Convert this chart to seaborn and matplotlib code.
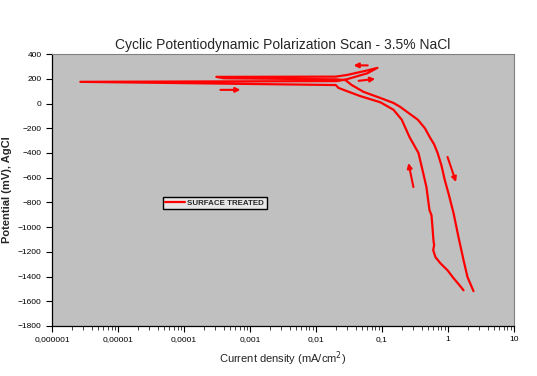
import numpy as np
import pandas as pd
import matplotlib
matplotlib.use("Agg")
import matplotlib.pyplot as plt
import seaborn as sns
from matplotlib.ticker import FixedLocator, LogLocator, NullFormatter

# scan path (current in mA/cm2, potential in mV)
current = [1.73, 1.45, 1.22, 0.99, 0.77, 0.65, 0.60, 0.62, 0.605, 0.585, 0.565, 0.527,
           0.474, 0.413, 0.359, 0.262, 0.20, 0.15, 0.0953, 0.0474, 0.0281, 0.022, 0.020,
           0.00000269, 0.0210, 0.030, 0.060, 0.0857, 0.060, 0.030, 0.020, 0.00031,
           0.0004, 0.020, 0.028,
           0.035, 0.0526, 0.0953, 0.15, 0.19, 0.26, 0.35, 0.45, 0.53, 0.62, 0.70,
           0.80, 0.90, 1.02, 1.22, 1.45, 1.73, 1.99, 2.45]
potential = [-1511, -1460, -1413, -1349, -1292, -1243, -1186, -1146, -1105, -1000, -903, -862,
             -676, -538, -400, -270, -130, -50, 10, 60, 105, 127, 150,
             176, 182, 198, 245, 289, 268, 232, 218, 216,
             205, 196, 190,
             150, 95, 45, 5, -27, -80, -130, -200, -270, -330, -400,
             -500, -620, -724, -886, -1080, -1267, -1405, -1518]

# scan direction arrows: (x0, y0) -> (x1, y1)
arrow_x0 = [0.000357, 0.061, 0.0445, 0.301, 0.99]
arrow_y0 = [111, 309, 184, -676, -432]
arrow_x1 = [0.00072, 0.0373, 0.0793, 0.253, 1.33]
arrow_y1 = [111, 309, 200, -481, -635]

x_ticks = [1e-6, 1e-5, 1e-4, 1e-3, 1e-2, 1e-1, 1, 10]
x_labels = ["0,000001", "0,00001", "0,0001", "0,001", "0,01", "0,1", "1", "10"]
y_ticks = list(range(-1800, 401, 200))

df = pd.DataFrame({"Current": current, "Potential": potential,
                   "order": range(len(current)), "Sample": "SURFACE TREATED"})

sns.set_style("ticks")
plt.rcParams["font.family"] = ["Liberation Sans", "DejaVu Sans"]

fig = plt.figure(figsize=(5.37, 3.76), dpi=100)
ax = fig.add_axes([0.0968, 0.133, 0.860, 0.723])
ax.set_facecolor("#C0C0C0")

sns.lineplot(data=df, x="Current", y="Potential", hue="Sample", sort=False,
             estimator=None, palette=["#FF0000"], linewidth=1.6, ax=ax)

for x0, y0, x1, y1 in zip(arrow_x0, arrow_y0, arrow_x1, arrow_y1):
    ax.annotate("", xy=(x1, y1), xytext=(x0, y0),
                arrowprops=dict(arrowstyle="-|>", color="#FF0000", lw=1.5,
                                mutation_scale=7, shrinkA=0, shrinkB=0))

ax.set_xscale("log")
ax.set_xlim(1e-6, 10)
ax.set_ylim(-1800, 400)
ax.xaxis.set_major_locator(FixedLocator(x_ticks))
ax.set_xticklabels(x_labels)
ax.xaxis.set_minor_locator(LogLocator(base=10, subs=np.arange(2, 10)))
ax.xaxis.set_minor_formatter(NullFormatter())
ax.set_yticks(y_ticks)
ax.tick_params(axis="both", which="major", labelsize=6, length=4, width=0.8,
               direction="out", colors="black")
ax.tick_params(axis="x", which="minor", length=3, width=0.6, direction="out")

for side in ["top", "right"]:
    ax.spines[side].set_visible(True)
    ax.spines[side].set_color("#808080")
for side in ["left", "bottom"]:
    ax.spines[side].set_color("black")
    ax.spines[side].set_linewidth(0.9)

ax.set_title("Cyclic Potentiodynamic Polarization Scan - 3.5% NaCl", fontsize=10, pad=4)
ax.set_xlabel("Current density (mA/cm$^2$)", fontsize=8, labelpad=4)
ax.set_ylabel("Potential (mV), AgCl", fontsize=8, fontweight="bold", labelpad=4)

leg = ax.legend(loc="lower left", bbox_to_anchor=(0.24, 0.43), frameon=True,
                fancybox=False, framealpha=1, edgecolor="black",
                prop={"size": 5.7, "weight": "bold"}, handlelength=2.5,
                handletextpad=0.3, borderpad=0.3, borderaxespad=0)
leg.get_frame().set_facecolor("#E6E6E6")
leg.get_frame().set_linewidth(1.0)

fig.savefig("out.png", dpi=100)
